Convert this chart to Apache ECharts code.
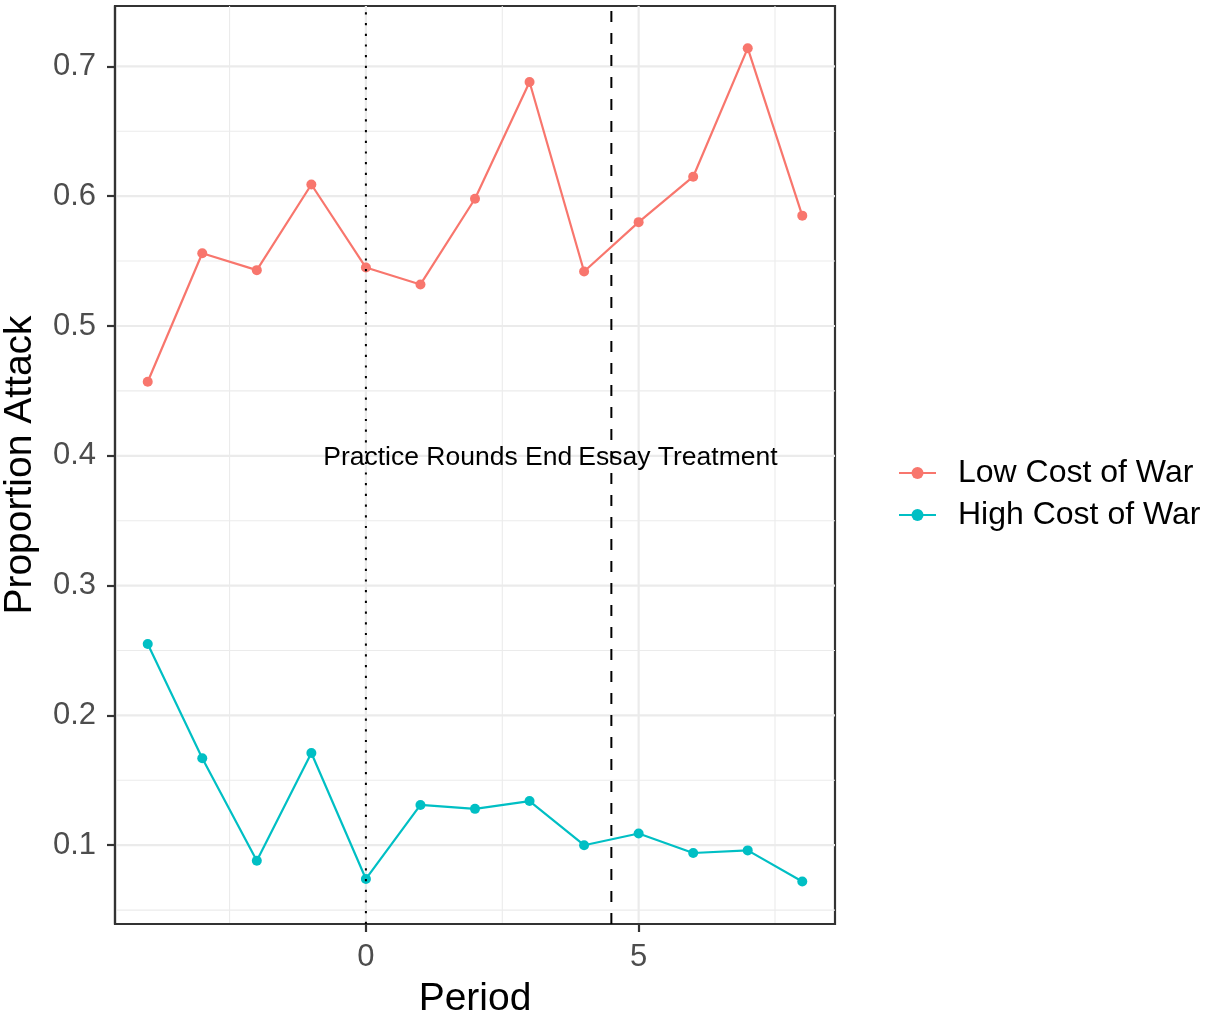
<!DOCTYPE html>
<html>
<head>
<meta charset="utf-8">
<script src="https://cdn.jsdelivr.net/npm/echarts@6/dist/echarts.min.js"></script>
<style>html,body{margin:0;padding:0;background:#fff}#c{width:1206px;height:1015px}</style>
</head>
<body>
<div id="c"></div>
<script>
const periods = [-4,-3,-2,-1,0,1,2,3,4,5,6,7,8];
const lowCost = [0.457,0.556,0.543,0.609,0.545,0.532,0.598,0.688,0.542,0.580,0.615,0.714,0.585];
const highCost = [0.255,0.167,0.088,0.171,0.074,0.131,0.128,0.134,0.100,0.109,0.094,0.096,0.072];
const xTicks = [0,5];
const yTicks = [0.1,0.2,0.3,0.4,0.5,0.6,0.7];
const xMinor = [-2.5,2.5,7.5];
const yMinor = [0.05,0.15,0.25,0.35,0.45,0.55,0.65];
const vlines = [{x:0,type:'dotted'},{x:4.5,type:'dashed'}];
const annotations = [{x:1.5,y:0.4,text:'Practice Rounds End'},{x:5.72,y:0.4,text:'Essay Treatment'}];
const seriesNames = ['Low Cost of War','High Cost of War'];
const colors = ['#F8766D','#00BFC4'];

const FONT = 'Liberation Sans';
const X_MIN = -4.6, X_MAX = 8.6, Y_MIN = 0.0393, Y_MAX = 0.7465;

// gridline descriptors: [value, isVertical(1/0), isMajor(1/0)]
const gridData = [];
xTicks.forEach(v=>gridData.push([v,1,1]));
xMinor.forEach(v=>gridData.push([v,1,0]));
yTicks.forEach(v=>gridData.push([v,0,1]));
yMinor.forEach(v=>gridData.push([v,0,0]));

function lineItem(api, vert, v){
  const a = vert ? api.coord([v, Y_MIN]) : api.coord([X_MIN, v]);
  const b = vert ? api.coord([v, Y_MAX]) : api.coord([X_MAX, v]);
  return {x1:a[0],y1:a[1],x2:b[0],y2:b[1]};
}

const chart = echarts.init(document.getElementById('c'));
chart.setOption({
  animation:false,
  textStyle:{fontFamily:FONT},
  grid:{left:115,right:371,top:6,bottom:91,outerBoundsMode:'none',containLabel:false,show:true,borderColor:'#333',borderWidth:2.2,backgroundColor:'#fff'},
  xAxis:{type:'value',min:X_MIN,max:X_MAX,
    name:'Period',nameLocation:'middle',nameGap:56,
    nameTextStyle:{fontSize:39,color:'#000',fontFamily:FONT},
    axisLine:{show:true,onZero:false,lineStyle:{color:'#333',width:2.2}},
    splitLine:{show:false},
    axisTick:{show:true,length:8,lineStyle:{color:'#333',width:2.2},customValues:xTicks},
    axisLabel:{fontSize:31,color:'#4D4D4D',margin:18,customValues:xTicks,fontFamily:FONT}
  },
  yAxis:{type:'value',min:Y_MIN,max:Y_MAX,
    name:'Proportion Attack',nameLocation:'middle',nameGap:75,
    nameTextStyle:{fontSize:39,color:'#000',fontFamily:FONT},
    axisLine:{show:true,onZero:false,lineStyle:{color:'#333',width:2.2}},
    splitLine:{show:false},
    axisTick:{show:true,length:8,lineStyle:{color:'#333',width:2.2},customValues:yTicks},
    axisLabel:{fontSize:31,color:'#4D4D4D',margin:19,customValues:yTicks,fontFamily:FONT,formatter:v=>v.toFixed(1)}
  },
  legend:{orient:'vertical',left:893,top:452,itemWidth:37,itemHeight:15,itemGap:10,
    data:seriesNames,
    textStyle:{fontSize:32,color:'#000',fontFamily:FONT,padding:[0,0,0,17]}},
  series:[
    {name:'grid',type:'custom',silent:true,z:0,clip:true,
      data:gridData,
      renderItem:(params,api)=>{
        const v=api.value(0), vert=api.value(1)===1, major=api.value(2)===1;
        return {type:'line',shape:lineItem(api,vert,v),
          style:{stroke:'#EBEBEB',lineWidth:major?2.2:1.1,fill:null}};
      }},
    {name:seriesNames[0],type:'line',data:periods.map((p,i)=>[p,lowCost[i]]),
      color:colors[0],lineStyle:{width:2.2},symbol:'circle',symbolSize:10,z:3},
    {name:seriesNames[1],type:'line',data:periods.map((p,i)=>[p,highCost[i]]),
      color:colors[1],lineStyle:{width:2.2},symbol:'circle',symbolSize:10,z:3},
    {name:'vlines',type:'custom',silent:true,z:4,clip:true,
      data:vlines.map(v=>[v.x, v.type==='dotted'?1:0]),
      renderItem:(params,api)=>{
        const dotted=api.value(1)===1;
        return {type:'line',shape:lineItem(api,true,api.value(0)),
          style:{stroke:'#000',lineWidth:2,lineDash:dotted?[2.2,8.5]:[11,11],fill:null}};
      }},
    {name:'ann',type:'custom',silent:true,z:5,
      data:annotations.map(a=>({value:[a.x,a.y],name:a.text})),
      renderItem:(params,api)=>{
        const p=api.coord([api.value(0),api.value(1)]);
        return {type:'text',x:p[0],y:p[1]+2,
          style:{text:annotations[params.dataIndex].text,fill:'#000',fontSize:26.5,fontFamily:FONT,align:'center',verticalAlign:'middle'}};
      }}
  ]
});
</script>
</body>
</html>
